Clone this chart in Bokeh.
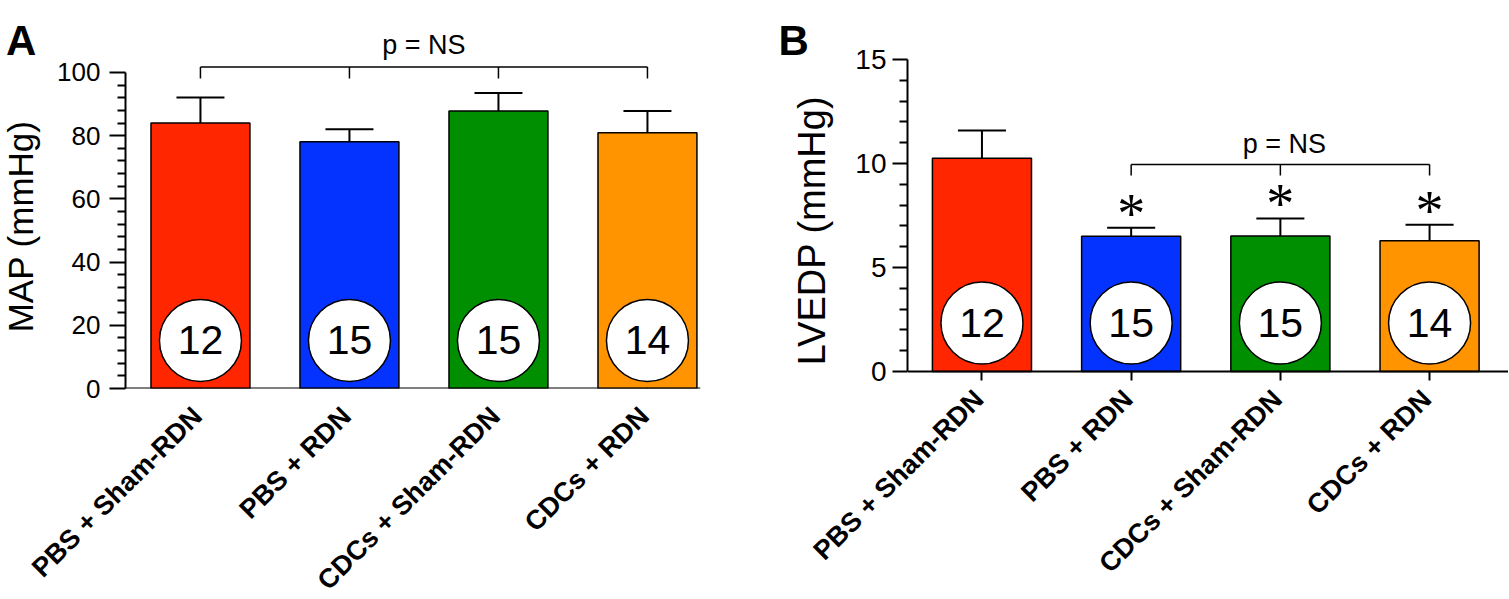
import math
from bokeh.plotting import figure
from bokeh.layouts import row
from bokeh.models import FixedTicker, Range1d
from bokeh.core.properties import value
from bokeh.embed import file_html
from bokeh.resources import INLINE

# ---------------- data ----------------
groups = ["PBS + Sham-RDN", "PBS + RDN", "CDCs + Sham-RDN", "CDCs + RDN"]
colors = ["#FF2600", "#0433FF", "#008F00", "#FF9300"]
n_animals = [12, 15, 15, 14]

map_mean = [84.0, 78.1, 87.8, 80.9]
map_sem = [8.1, 3.9, 5.7, 6.9]
map_ticks = [0, 20, 40, 60, 80, 100]

lvedp_mean = [10.25, 6.50, 6.52, 6.29]
lvedp_sem = [1.34, 0.41, 0.84, 0.77]
lvedp_ticks = [0, 5, 10, 15]
lvedp_signif = [False, True, True, True]

FONT = "Liberation Sans"
xs = list(range(len(groups)))


def otext(p, x, y, text, size, **kw):
    """Text glyph drawn on the overlay level (not clipped to the frame)."""
    p.text(x=x, y=y, text=text, text_font=value(kw.pop("font", FONT)),
           text_font_size=value(size), text_color="black", level="overlay", **kw)


def style_axes(p, ticks, minor, tick_fs, tick_out, minor_out, label_standoff):
    p.outline_line_color = None
    p.xgrid.visible = False
    p.ygrid.visible = False
    p.background_fill_color = "white"
    p.border_fill_color = "white"

    ya = p.yaxis[0]
    ya.ticker = FixedTicker(ticks=ticks, minor_ticks=minor)
    ya.bounds = (ticks[0], ticks[-1])
    ya.axis_line_width = 2
    ya.axis_line_color = "black"
    ya.major_tick_line_width = 2
    ya.minor_tick_line_width = 2
    ya.major_tick_out = tick_out
    ya.major_tick_in = 0
    ya.minor_tick_out = minor_out
    ya.minor_tick_in = 0
    ya.major_label_standoff = label_standoff
    ya.major_label_text_font = FONT
    ya.major_label_text_font_size = tick_fs
    ya.major_label_text_color = "black"

    xa = p.xaxis[0]
    xa.ticker = FixedTicker(ticks=xs)
    xa.major_label_overrides = {i: "" for i in xs}
    xa.fixed_location = 0
    xa.axis_line_width = 2
    xa.axis_line_color = "black"
    xa.major_tick_line_width = 2
    xa.major_tick_out = 9
    xa.major_tick_in = 0
    xa.minor_tick_line_color = None


def draw_bars(p, means, sems, circle_y, cap_half):
    p.vbar(x=xs, top=means, bottom=0, width=0.664, fill_color=colors,
           line_color="black", line_width=1.5)
    tops = [m + s for m, s in zip(means, sems)]
    p.segment(x0=xs, y0=means, x1=xs, y1=tops, line_color="black", line_width=2)
    p.segment(x0=[x - cap_half for x in xs], y0=tops, x1=[x + cap_half for x in xs],
              y1=tops, line_color="black", line_width=2)
    p.scatter(x=xs, y=[circle_y] * len(xs), size=82, marker="circle",
              fill_color="white", line_color="black", line_width=1.5)
    p.text(x=xs, y=[circle_y] * len(xs), text=[str(n) for n in n_animals],
           text_align="center", text_baseline="middle",
           text_font=value(FONT), text_font_size=value("41px"), text_color="black")
    return tops


def bracket(p, x_list, y, drop, label, label_dx, label_y):
    p.segment(x0=[x_list[0]], y0=[y], x1=[x_list[-1]], y1=[y],
              line_color="black", line_width=1.5)
    p.segment(x0=x_list, y0=[y] * len(x_list), x1=x_list, y1=[y - drop] * len(x_list),
              line_color="black", line_width=1.5)
    otext(p, [(x_list[0] + x_list[-1]) / 2 + label_dx], [label_y], [label], "27px",
          text_align="center", text_baseline="alphabetic")


def category_labels(p, y):
    otext(p, [x - 0.02 for x in xs], [y] * len(xs), groups, "27px",
          angle=math.pi / 4, text_align="right", text_baseline="middle",
          text_font_style="bold")


# ---------------- panel A ----------------
pA = figure(width=754, height=598, x_range=Range1d(-0.503, 3.356),
            y_range=Range1d(0, 122.78), output_backend="svg", toolbar_location=None,
            min_border_left=125, min_border_right=54, min_border_top=0,
            min_border_bottom=210)
style_axes(pA, map_ticks, [v for v in range(0, 101, 4) if v % 20], "26px", 16, 8, 9)
draw_bars(pA, map_mean, map_sem, 15.2, 0.161)
bracket(pA, xs, 101.7, 3.6, "p = NS", 0.0, 108.8)
category_labels(pA, -7.3)
otext(pA, [-1.21], [51.3], ["MAP (mmHg)"], "35px", angle=math.pi / 2,
      text_align="center", text_baseline="middle")
otext(pA, [-1.305], [110.1], ["A"], "42px", text_align="left",
      text_baseline="alphabetic", text_font_style="bold")

# ---------------- panel B ----------------
pB = figure(width=754, height=598, x_range=Range1d(-0.499, 3.529),
            y_range=Range1d(-0.817, 17.84), output_backend="svg", toolbar_location=None,
            min_border_left=153, min_border_right=0, min_border_top=0,
            min_border_bottom=210)
style_axes(pB, lvedp_ticks, [v for v in range(0, 16) if v % 5], "28px", 15, 8, 6)
tops_b = draw_bars(pB, lvedp_mean, lvedp_sem, 2.33, 0.161)
ast_x = [x for x, s in zip(xs, lvedp_signif) if s]
ast_y = [t + 0.68 for t, s in zip(tops_b, lvedp_signif) if s]
otext(pB, ast_x, ast_y, ["*"] * len(ast_x), "56px", font="Liberation Serif",
      text_align="center", text_baseline="middle")
bracket(pB, xs[1:], 9.95, 0.53, "p = NS", 0.027, 10.96)
category_labels(pB, -1.106)
otext(pB, [-1.136], [6.78], ["LVEDP (mmHg)"], "38px", angle=math.pi / 2,
      text_align="center", text_baseline="middle")
otext(pB, [-1.364], [15.91], ["B"], "42px", text_align="left",
      text_baseline="alphabetic", text_font_style="bold")

layout = row(pA, pB)
open("out.html", "w").write(file_html(layout, INLINE))
